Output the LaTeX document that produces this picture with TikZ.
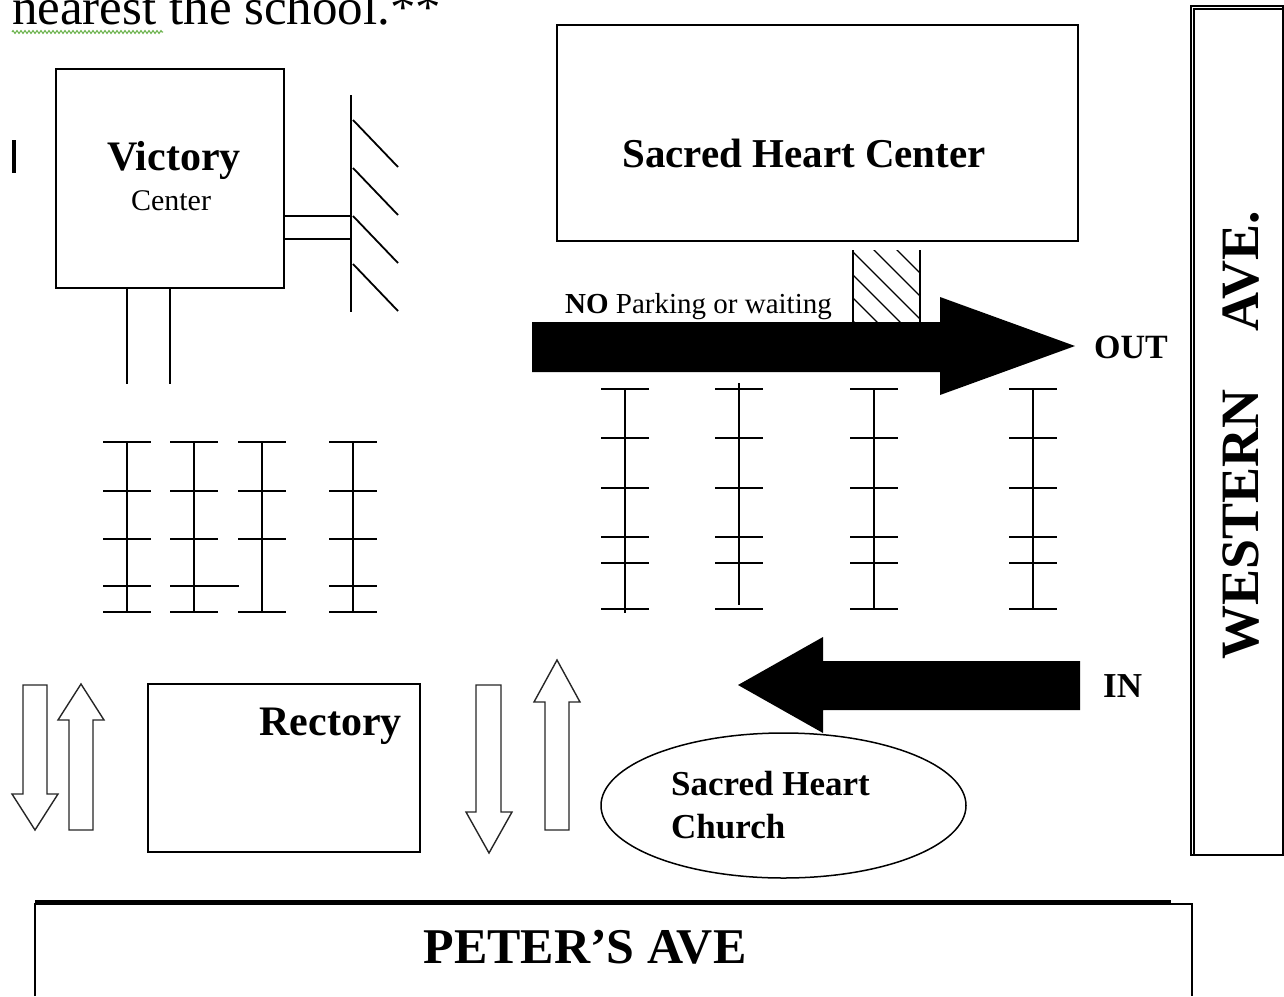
\documentclass[tikz,border=0pt]{standalone}
\usepackage{fontspec}
\setmainfont{Liberation Serif}
\usetikzlibrary{decorations.pathmorphing,shapes.geometric}
\newcommand{\fsz}[1]{\fontsize{#1}{#1}\selectfont}
\definecolor{squig}{RGB}{110,180,80}
\begin{document}
\begin{tikzpicture}[x=1pt,y=-1pt,line join=miter,
  bldg/.style={draw, line width=2pt, inner sep=0pt, rectangle},
  ln/.style={line width=2.2pt},
  hollow/.style={draw=black!85, line width=1.4pt, fill=white},
  solidarrow/.style={fill=black, draw=none},
  lbl/.style={inner sep=0pt, anchor=base},
  bfl/.style={lbl, font=\bfseries},
]
\useasboundingbox (0,0) rectangle (1284,996);
\clip (0,0) rectangle (1284,996);

% top clipped text
\node[lbl, anchor=base west] (toptext) at (12,24) {\fsz{51}nearest the school.**};
\draw[squig, line width=1.1pt, decorate, decoration={zigzag, segment length=4pt, amplitude=1.4pt}] (12,32) -- (163,32);

% cursor bar
\draw[line width=3.5pt] (14,140) -- (14,173);

% Victory Center
\node[bldg, minimum width=228pt, minimum height=219pt] (victory) at (170,178.5) {};
\node[bfl] (victoryT) at (174,170) {\fsz{42}Victory};
\node[lbl] (centerT) at (171,210) {\fsz{30}Center};
\coordinate (wallTop) at (351,95);
\coordinate (wallBot) at (351,312);
\draw[ln] (wallTop) -- (wallBot);
\draw[ln] (284,216) -- (351,216);
\draw[ln] (284,239) -- (351,239);
\foreach \y in {120,168,216,264} \draw[line width=1.8pt] (353,\y) -- (398,\y+47);
\draw[ln] (127,288) -- (127,384);
\draw[ln] (170,288) -- (170,384);

% Sacred Heart Center
\node[bldg, minimum width=521pt, minimum height=216pt] (shc) at (817.5,133) {};
\node[bfl] (shcT) at (804,167) {\fsz{41}Sacred Heart Center};

% hatched no-parking box
\begin{scope}
  \clip (853,250) rectangle (920,322);
  \foreach \c in {-670,-647,-624,-601,-578,-555,-532}
    \draw[line width=1.2pt] (840,840+\c) -- (940,940+\c);
\end{scope}
\draw[ln] (853,250) -- (853,322);
\draw[ln] (920,250) -- (920,322);
\node[lbl, anchor=base west] (nopark) at (565,313) {\fsz{29}\textbf{NO} Parking or waiting};

% OUT arrow
\draw[solidarrow] (532,322) -- (940,322) -- (940,297) -- (1075,346) -- (940,395) -- (940,372) -- (532,372) -- cycle;
\node[bfl, anchor=base west] (outT) at (1094,358) {\fsz{34}OUT};

% IN arrow
\draw[solidarrow] (1080,661) -- (823,661) -- (823,637) -- (738,685) -- (823,733) -- (823,710) -- (1080,710) -- cycle;
\node[bfl, anchor=base west] (inT) at (1103,697) {\fsz{35}IN};

% parking stalls
\foreach \x/\ya/\yb/\bars in {127/442/612/{442,491,539,586,612},194/442/612/{442,491,539,586,612},262/442/612/{442,491,539,612},353/442/612/{442,491,539,586,612},
  625/389/613/{389,438,488,537,563,609},739/383/605/{389,438,488,537,563,609},874/389/609/{389,438,488,537,563,609},1033/389/609/{389,438,488,537,563,609}}{
  \draw[ln] (\x,\ya) -- (\x,\yb);
  \foreach \b in \bars \draw[ln] (\x-24,\b) -- (\x+24,\b);
}
\draw[ln] (194,586) -- (239,586);

% hollow arrows
\draw[hollow] (23,685) -- (47,685) -- (47,794) -- (58,794) -- (35,830) -- (12,794) -- (23,794) -- cycle;
\draw[hollow] (69,830) -- (93,830) -- (93,720) -- (104,720) -- (81,684) -- (58,720) -- (69,720) -- cycle;
\draw[hollow] (476,685) -- (501,685) -- (501,812) -- (512,812) -- (489,853) -- (466,812) -- (476,812) -- cycle;
\draw[hollow] (545,830) -- (569,830) -- (569,702) -- (580,702) -- (557,660) -- (534,702) -- (545,702) -- cycle;

% Rectory
\node[bldg, minimum width=272pt, minimum height=168pt] (rectory) at (284,768) {};
\node[bfl, anchor=base east] (rectT) at (402,735) {\fsz{42}Rectory};

% Church
\node[draw, ellipse, line width=1.5pt, minimum width=365pt, minimum height=145pt, inner sep=0pt] (church) at (783.5,805.5) {};
\node[bfl, anchor=base west] (churchT1) at (671,795) {\fsz{35}Sacred Heart};
\node[bfl, anchor=base west] (churchT2) at (671,838) {\fsz{35}Church};

% Western Ave
\draw[line width=1.5pt] (1191,6) rectangle (1283,855);
\draw[line width=1.3pt] (1194,855) -- (1194,9) -- (1283,9);
\node[bfl, anchor=base west, rotate=90] (westT) at (1258,660) {\fsz{54}WESTERN\hspace{58pt}AVE.};

% Peter's Ave
\draw[line width=4pt] (35,902) -- (1171,902);
\draw[line width=1.5pt] (35,996) -- (35,904) -- (1192,904) -- (1192,996);
\node[bfl] (peterT) at (585,963) {\fsz{50}PETER’S AVE};
\end{tikzpicture}
\end{document}
